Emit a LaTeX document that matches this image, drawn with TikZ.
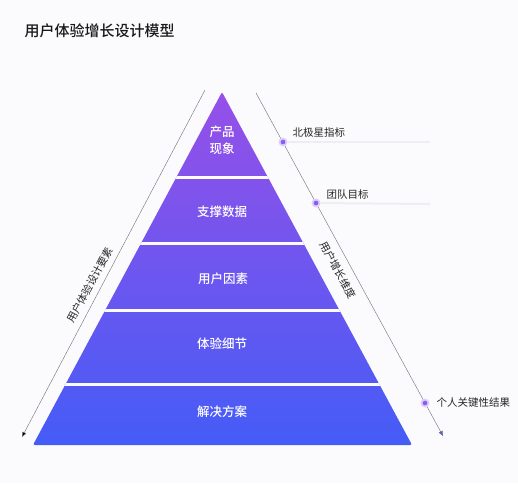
\documentclass[tikz,border=0pt]{standalone}
\usepackage{fontspec}
\setmainfont{Noto Sans CJK SC}
\IfFontExistsTF{Noto Sans CJK SC Medium}
    {\newfontfamily\midfont{Noto Sans CJK SC Medium}}
    {\newfontfamily\midfont[FakeBold=0.6]{Noto Sans CJK SC}}
\usetikzlibrary{positioning,arrows.meta}
\definecolor{bgwhite}{HTML}{FBFBFD}
\definecolor{tiertop}{HTML}{9650E8}
\definecolor{tierbottom}{HTML}{455CF6}
\definecolor{dotpurple}{HTML}{8A5CF0}
\definecolor{axisgray}{HTML}{6E6E78}
\definecolor{arrowblue}{HTML}{4F5EE0}
\definecolor{faintgray}{HTML}{EDEDF3}

\begin{document}
\begin{tikzpicture}[x=1pt,y=-1pt]
    \tikzstyle{tier} = [text=white, font=\midfont\fontsize{12.5}{17}\selectfont, align=center]
    \tikzstyle{axislabel} = [text=black!85, font=\fontsize{10.5}{12}\selectfont]
    \tikzstyle{goal} = [anchor=west, text=black!85, font=\fontsize{10.5}{12}\selectfont]
    \tikzstyle{goaldot} = [circle, fill=dotpurple, draw=dotpurple!30, line width=1.8pt, inner sep=0pt, minimum size=7pt]
    \tikzstyle{separator} = [draw=bgwhite, line width=3pt]
    \tikzstyle{faint} = [draw=faintgray, line width=2pt]

    \useasboundingbox[fill=bgwhite] (0,0) rectangle (518,483);

    % Title
    \node[anchor=west, text=black!90, font=\midfont\fontsize{15}{18}\selectfont] (title) at (21,31) {用户体验增长设计模型};

    % Pyramid
    \coordinate (apex) at (222,92);
    \coordinate (baseL) at (33,445);
    \coordinate (baseR) at (412,445);
    \begin{scope}
        \clip[rounded corners=2pt] (apex) -- (baseR) -- (baseL) -- cycle;
        \shade[top color=tiertop, bottom color=tierbottom] (30,92) rectangle (415,445);
        \draw[separator] (30,177) -- (415,177);
        \draw[separator] (30,243) -- (415,243);
        \draw[separator] (30,310) -- (415,310);
        \draw[separator] (30,384) -- (415,384);
    \end{scope}

    % Tier labels
    \node[tier] (phenomenon) at (222,140) {产品\\现象};
    \node[tier] (data) at (222,212) {支撑数据};
    \node[tier] (factor) at (223,279) {用户因素};
    \node[tier] (detail) at (222,344) {体验细节};
    \node[tier] (solution) at (222,412) {解决方案};

    % Design axis
    \coordinate (designtop) at (205,90);
    \coordinate (designend) at (22,437);
    \draw[axisgray, -{Triangle[length=5pt,width=4pt,fill=black]}] (designtop) -- (designend);
    \node[axislabel, rotate=62] (design) at (90,285) {用户体验设计要素};

    % Growth axis
    \coordinate (growthtop) at (256,93);
    \coordinate (growthend) at (443,436);
    \draw[axisgray, -{Triangle[length=5pt,width=4pt,fill=arrowblue]}] (growthtop) -- (growthend);
    \node[axislabel, rotate=-61] (growth) at (338,270) {用户增长维度};

    % Goals
    \coordinate (northend) at (430,142);
    \coordinate (teamend) at (430,204);
    \node[goaldot] (northdot) at (283,142) {};
    \node[goaldot] (teamdot) at (316,203) {};
    \node[goaldot] (keydot) at (425,403) {};
    \draw[faint] (northdot) -- (northend);
    \draw[faint] (teamdot) -- (teamend);
    \node[goal] (north) at (289,133) {北极星指标};
    \node[goal] (team) at (323,195) {团队目标};
    \node[goal] (key) at (433,403) {个人关键性结果};

\end{tikzpicture}
\end{document}
